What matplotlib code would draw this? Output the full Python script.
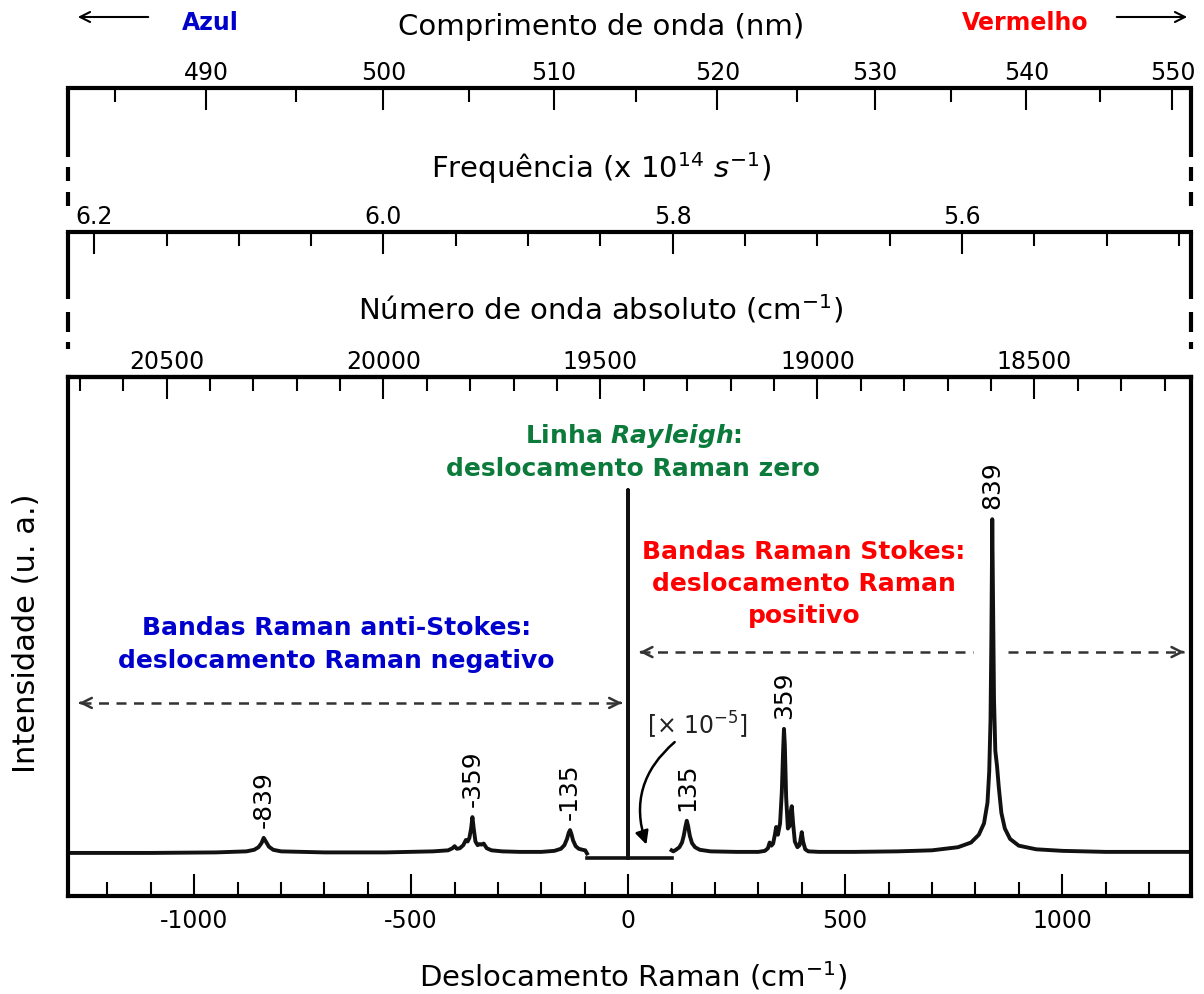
import numpy as np
import matplotlib
matplotlib.use('Agg')
import matplotlib.pyplot as plt
from matplotlib.ticker import MultipleLocator, FixedLocator, FixedFormatter

plt.rcParams['font.family'] = ['DejaVu Sans']
plt.rcParams['axes.unicode_minus'] = False
plt.rcParams['mathtext.fontset'] = 'custom'
plt.rcParams['mathtext.rm'] = 'DejaVu Sans'
plt.rcParams['mathtext.it'] = 'DejaVu Sans:italic'
plt.rcParams['mathtext.bf'] = 'DejaVu Sans:bold'
plt.rcParams['mathtext.bfit'] = 'DejaVu Sans:italic:bold'

# laser line (cm-1) and speed of light (cm/s)
laser_wn = 19436.0
light_c = 3.0e10

# anti-Stokes side of the spectrum (Raman shift, intensity a.u.)
anti_shift = [-1291, -1100, -950, -880, -862, -852, -845, -840, -835, -828, -818, -800,
              -700, -560, -450, -415, -405, -400, -395, -388, -380, -374, -370, -366,
              -362, -359, -356, -352, -347, -342, -338, -333, -326, -315, -290, -250,
              -200, -170, -155, -147, -141, -137, -134, -131, -127, -121, -114, -105,
              -99, -95]
anti_int = [0.083, 0.083, 0.084, 0.086, 0.089, 0.094, 0.102, 0.112, 0.105, 0.095, 0.089, 0.086,
            0.084, 0.084, 0.086, 0.088, 0.092, 0.096, 0.091, 0.092, 0.098, 0.108, 0.105, 0.112,
            0.130, 0.152, 0.130, 0.105, 0.098, 0.100, 0.099, 0.101, 0.092, 0.088, 0.086, 0.085,
            0.085, 0.087, 0.091, 0.098, 0.110, 0.122, 0.127, 0.120, 0.107, 0.096, 0.091, 0.089,
            0.088, 0.082]

# Stokes side of the spectrum
stokes_shift = [100, 104, 110, 118, 124, 128, 132, 135, 138, 142, 147, 154, 165, 190, 250,
                300, 315, 322, 326, 330, 334, 338, 341, 345, 350, 354, 357, 359, 361, 364,
                368, 372, 375, 377, 380, 384, 390, 395, 398, 400, 403, 408, 415, 440, 520,
                620, 700, 760, 790, 808, 820, 828, 832, 835, 837, 839, 841, 843, 846, 850,
                854, 860, 868, 880, 900, 940, 1000, 1100, 1297]
stokes_int = [0.088, 0.086, 0.089, 0.094, 0.103, 0.116, 0.134, 0.145, 0.135, 0.116, 0.102, 0.094,
              0.089, 0.086, 0.085, 0.085, 0.087, 0.092, 0.103, 0.097, 0.101, 0.118, 0.133, 0.118,
              0.140, 0.200, 0.280, 0.322, 0.290, 0.190, 0.130, 0.135, 0.165, 0.173, 0.140, 0.105,
              0.094, 0.098, 0.113, 0.123, 0.105, 0.090, 0.086, 0.085, 0.085, 0.086, 0.088, 0.094,
              0.103, 0.118, 0.140, 0.180, 0.240, 0.340, 0.500, 0.726, 0.550, 0.380, 0.280, 0.250,
              0.210, 0.160, 0.130, 0.110, 0.097, 0.090, 0.087, 0.085, 0.085]

# Rayleigh line (scaled x 1e-5)
rayleigh_shift = [-95, 0, 0, 0, 100]
rayleigh_int = [0.073, 0.073, 0.782, 0.073, 0.073]

peak_pos = [-839, -359, -135, 135, 359, 839]
peak_labels = ['-839', '-359', '-135', '135', '359', '839']

# tick values of the top scales
wl_major = [490, 500, 510, 520, 530, 540, 550]
wl_minor = [485, 495, 505, 515, 525, 535, 545]
fr_major = [6.2, 6.0, 5.8, 5.6]
fr_labels = ['6.2', '6.0', '5.8', '5.6']
fr_minor = [6.15, 6.1, 6.05, 5.95, 5.9, 5.85, 5.75, 5.7, 5.65, 5.55, 5.5, 5.45]
wn_major = [20500, 20000, 19500, 19000, 18500]

W, H = 1204, 995
fig = plt.figure(figsize=(W / 100, H / 100), dpi=100)

xmin, xmax = -1291, 1297
ax = fig.add_axes([68 / W, (H - 897) / H, (1191 - 68) / W, (897 - 378) / H])
ax.set_xlim(xmin, xmax)
ax.set_ylim(0, 1)

ax.plot(anti_shift, anti_int, color='#111111', lw=2.8, solid_joinstyle='round')
ax.plot(stokes_shift, stokes_int, color='#111111', lw=2.8, solid_joinstyle='round')
ax.plot(rayleigh_shift, rayleigh_int, color='#111111', lw=2.6)

# peak labels
all_x = anti_shift + stokes_shift
all_y = anti_int + stokes_int
for pos, lab in zip(peak_pos, peak_labels):
    near = [y for x, y in zip(all_x, all_y) if abs(x - pos) <= 6]
    ax.annotate(lab, xy=(pos, max(near)), xytext=(0, 8), textcoords='offset points',
                rotation=90, ha='center', va='bottom', fontsize=18)

for s in ax.spines.values():
    s.set_linewidth(3)
ax.set_yticks([])
ax.xaxis.set_major_locator(MultipleLocator(500))
ax.xaxis.set_minor_locator(MultipleLocator(100))
ax.tick_params(axis='x', which='major', direction='in', length=16, width=1.5, labelsize=17, pad=9)
ax.tick_params(axis='x', which='minor', direction='in', length=10, width=1.5)


def style_top(sec, major, minor, labels=None):
    sec.xaxis.set_major_locator(FixedLocator(major))
    sec.xaxis.set_minor_locator(FixedLocator(minor))
    if labels is not None:
        sec.xaxis.set_major_formatter(FixedFormatter(labels))
    sec.tick_params(which='major', direction='in', length=16, width=1.5, labelsize=17, pad=3)
    sec.tick_params(which='minor', direction='in', length=10, width=1.5)
    sec.spines['top'].set_linewidth(3)


# absolute wavenumber on top of main axes
sec_wn = ax.secondary_xaxis('top', functions=(lambda s: laser_wn - s, lambda w: laser_wn - w))
wn_minor = [w for w in range(18200, 20800, 100) if w not in wn_major]
style_top(sec_wn, wn_major, wn_minor)


def frame_axes(top_px, bottom_px, solid_px, dashes_px):
    fa = fig.add_axes([68 / W, (H - bottom_px) / H, (1191 - 68) / W, (bottom_px - top_px) / H])
    fa.set_xlim(xmin, xmax)
    fa.set_ylim(0, 1)
    fa.patch.set_alpha(0)
    for s in fa.spines.values():
        s.set_visible(False)
    fa.set_xticks([])
    fa.set_yticks([])
    h = bottom_px - top_px
    for xa in (0, 1):
        fa.plot([xa, xa], [1, 1 - (solid_px - top_px) / h], transform=fa.transAxes,
                color='k', lw=3, clip_on=False, solid_capstyle='butt')
        for d0, d1 in dashes_px:
            fa.plot([xa, xa], [1 - (d0 - top_px) / h, 1 - (d1 - top_px) / h],
                    transform=fa.transAxes, color='k', lw=3, clip_on=False,
                    solid_capstyle='butt')
    return fa


# wavelength frame
fw = frame_axes(89, 207, 158, [(168, 182), (193, 207)])
sec_wl = fw.secondary_xaxis(1.0, functions=(lambda s: 1e7 / (laser_wn - s),
                                            lambda l: laser_wn - 1e7 / l))
style_top(sec_wl, wl_major, wl_minor)

# frequency frame
ff = frame_axes(233, 350, 300, [(313, 333), (343, 350)])
sec_fr = ff.secondary_xaxis(1.0, functions=(lambda s: light_c * (laser_wn - s) / 1e14,
                                            lambda v: laser_wn - v * 1e14 / light_c))
style_top(sec_fr, fr_major, fr_minor, fr_labels)

# axis titles
fig.text(601 / W, 1 - 27 / H, 'Comprimento de onda (nm)', ha='center', va='center', fontsize=21)
fig.text(601 / W, 1 - 168 / H, 'Frequência (x 10$^{\\mathregular{14}}$ $s^{\\mathregular{-1}}$)',
         ha='center', va='center', fontsize=21)
fig.text(601 / W, 1 - 309 / H, 'Número de onda absoluto (cm$^{\\mathregular{-1}}$)',
         ha='center', va='center', fontsize=21)
fig.text(633 / W, 1 - 976 / H, 'Deslocamento Raman (cm$^{\\mathregular{-1}}$)',
         ha='center', va='center', fontsize=21)
fig.text(27 / W, 1 - 633 / H, 'Intensidade (u. a.)', rotation=90, ha='center', va='center',
         fontsize=22)

# blue / red markers
fig.text(210 / W, 1 - 23 / H, 'Azul', color='#0000cc', fontweight='bold', fontsize=17,
         ha='center', va='center')
fig.text(1025 / W, 1 - 23 / H, 'Vermelho', color='#ff0000', fontweight='bold', fontsize=17,
         ha='center', va='center')
ax.annotate('', xy=(75 / W, 1 - 18 / H), xytext=(151 / W, 1 - 18 / H),
            xycoords='figure fraction', textcoords='figure fraction',
            arrowprops=dict(arrowstyle='->', lw=1.5, color='k', mutation_scale=18),
            annotation_clip=False)
ax.annotate('', xy=(1190 / W, 1 - 18 / H), xytext=(1114 / W, 1 - 18 / H),
            xycoords='figure fraction', textcoords='figure fraction',
            arrowprops=dict(arrowstyle='->', lw=1.5, color='k', mutation_scale=18),
            annotation_clip=False)

# region labels
ax.text(12, 0.858, 'Linha $\\mathbfit{Rayleigh}$:\ndeslocamento Raman zero', color='#0b7a3b',
        fontweight='bold', fontsize=18, ha='center', va='center', linespacing=1.4)
ax.text(405, 0.603, 'Bandas Raman Stokes:\ndeslocamento Raman\npositivo', color='#ff0000',
        fontweight='bold', fontsize=18, ha='center', va='center', linespacing=1.4)
ax.text(-673, 0.487, 'Bandas Raman anti-Stokes:\ndeslocamento Raman negativo', color='#0000cc',
        fontweight='bold', fontsize=18, ha='center', va='center', linespacing=1.45)

# dashed region arrows
dash_kw = dict(color='#333333', lw=1.8, linestyle=(0, (4, 3)))
ax.plot([-1262, -16], [0.372, 0.372], **dash_kw)
ax.plot([28, 795], [0.470, 0.470], **dash_kw)
ax.plot([876, 1280], [0.470, 0.470], **dash_kw)
head_kw = dict(arrowstyle='->', lw=1.8, color='#333333', mutation_scale=18)
ax.annotate('', xy=(-1272, 0.372), xytext=(-1255, 0.372), arrowprops=head_kw)
ax.annotate('', xy=(-8, 0.372), xytext=(-25, 0.372), arrowprops=head_kw)
ax.annotate('', xy=(20, 0.470), xytext=(37, 0.470), arrowprops=head_kw)
ax.annotate('', xy=(1288, 0.470), xytext=(1271, 0.470), arrowprops=head_kw)

# scale note
ax.text(159, 0.331, '[× 10$^{\\mathregular{−5}}$]', fontsize=17, ha='center', va='center',
        color='#222222')
ax.annotate('', xy=(44, 0.094), xytext=(112, 0.300),
            arrowprops=dict(arrowstyle='-|>', connectionstyle='arc3,rad=0.35', lw=1.8,
                            color='k', mutation_scale=20))

fig.savefig('out.png', dpi=100)
